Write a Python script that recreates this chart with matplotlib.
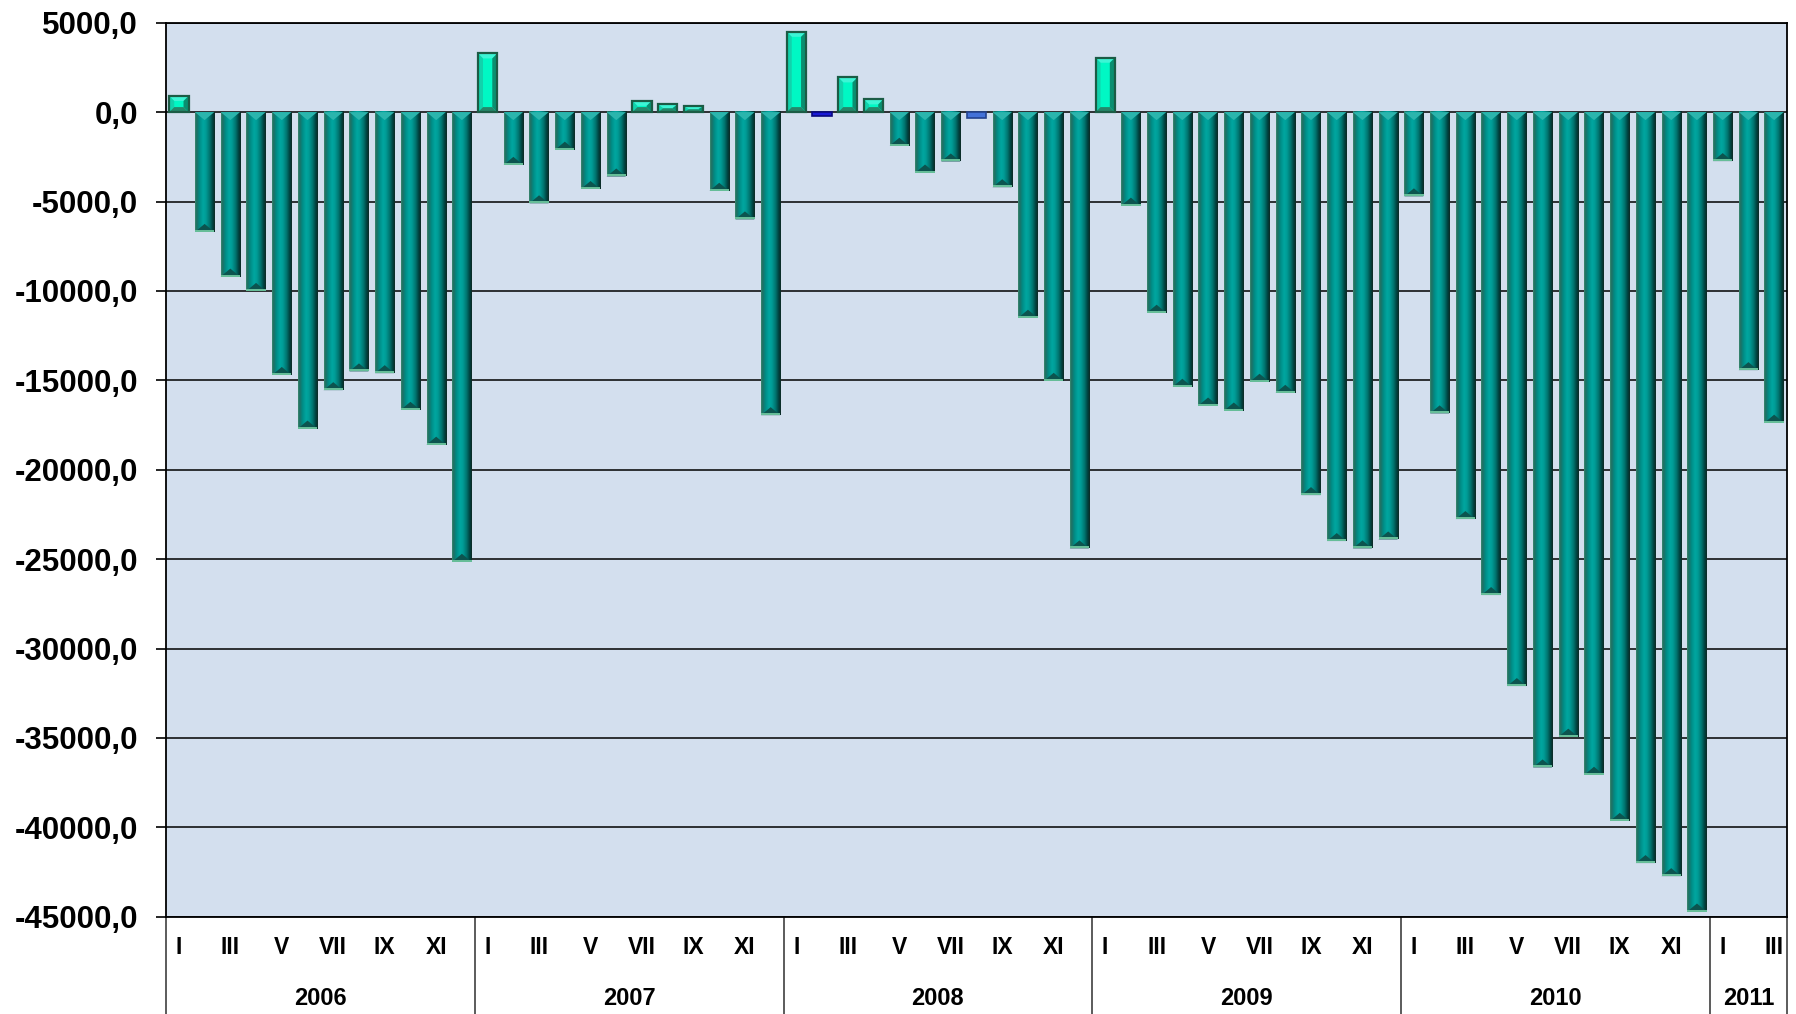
import matplotlib
matplotlib.use("Agg")
import matplotlib.pyplot as plt
import matplotlib.transforms as mtransforms
import numpy as np
from matplotlib.colors import LinearSegmentedColormap
from matplotlib.patches import Polygon, Rectangle
from matplotlib import font_manager

# data
years = ["2006", "2007", "2008", "2009", "2010", "2011"]
months_per_year = [12, 12, 12, 12, 12, 3]
month_names = ["I", "II", "III", "IV", "V", "VI", "VII", "VIII", "IX", "X", "XI", "XII"]

v2006 = [900, -6700, -9200, -10000, -14700, -17700, -15550, -14500, -14600, -16650, -18600, -25150]
v2007 = [3280, -2950, -5100, -2100, -4300, -3600, 630, 430, 320, -4400, -6000, -16950]
v2008 = [4490, -210, 1940, 710, -1880, -3380, -2760, -350, -4200, -11500, -15030, -24400]
v2009 = [3040, -5230, -11220, -15360, -16410, -16690, -15080, -15700, -21420, -23990, -24400, -23900]
v2010 = [-4710, -16850, -22760, -27010, -32100, -36650, -34930, -37060, -39640, -42000, -42730, -44710]
v2011 = [-2740, -14430, -17370]

# two bars drawn in blue in the original
blue_bars = {("2008", "II"): ("#1A1AD6", "#0A0A80"), ("2008", "VIII"): ("#4472D8", "#24448F")}

values = v2006 + v2007 + v2008 + v2009 + v2010 + v2011
labels = []
for y, n in zip(years, months_per_year):
    for m in range(n):
        labels.append((y, month_names[m]))


def pick(fams):
    for f in fams:
        try:
            font_manager.findfont(font_manager.FontProperties(family=f), fallback_to_default=False)
            return f
        except ValueError:
            pass
    return "DejaVu Sans"


main_font = pick(["Liberation Sans", "Arial"])
narrow_font = pick(["Liberation Sans Narrow", "Liberation Sans"])

FW, FH = 1796, 1014
L, R, T, B = 166 / FW, 1787 / FW, 1 - 22.7 / FH, 1 - 916.7 / FH
fig = plt.figure(figsize=(FW / 100, FH / 100), dpi=100)
ax = fig.add_axes([L, B, R - L, T - B])
ax.set_facecolor("#D3DFEE")

n = len(values)
ymin, ymax = -45000, 5000
px_x = n / ((R - L) * FW)
px_y = (ymax - ymin) / ((T - B) * FH)

neg_cmap = LinearSegmentedColormap.from_list("neg", [
    (0.00, "#3D8A70"), (0.07, "#1F6E62"), (0.22, "#008C86"), (0.40, "#00A6A0"),
    (0.55, "#009C96"), (0.75, "#00716C"), (0.90, "#00403D"), (1.00, "#0E2A25")])
grad = np.linspace(0, 1, 64).reshape(1, -1)

w = 0.75
for i, (v, lab) in enumerate(zip(values, labels)):
    x0, x1 = i - w / 2, i + w / 2
    if lab in blue_bars:
        fc, ec = blue_bars[lab]
        ax.add_patch(Rectangle((x0, min(0, v)), w, abs(v), fc=fc, ec=ec, lw=1.2, zorder=3))
    elif v < 0:
        ax.imshow(grad, extent=(x0, x1, v, 0), aspect="auto", cmap=neg_cmap,
                  interpolation="bilinear", zorder=3)
        d = min(8 * px_y, abs(v) / 2)
        ax.add_patch(Polygon([(x0, 0), (x1, 0), (i, -d)], closed=True,
                             fc="#2BB5AD", ec="none", zorder=4))
        ax.add_patch(Polygon([(x0, v), (x1, v), (i, v + d)], closed=True,
                             fc="#0C544F", ec="none", zorder=4))
        ax.add_patch(Rectangle((x0, v), w, 2 * px_y, fc="#66BD98", ec="none", zorder=5))
    else:
        bx = 5 * px_x
        by = min(5 * px_y, v / 2)
        ax.add_patch(Rectangle((x0, 0), w, v, fc="#00F8C4", ec="none", zorder=3))
        ax.add_patch(Polygon([(x0, v), (x1, v), (x1 - bx, v - by), (x0 + bx, v - by)],
                             fc="#3DF5D5", ec="none", zorder=4))
        ax.add_patch(Polygon([(x0, 0), (x0, v), (x0 + bx, v - by), (x0 + bx, by)],
                             fc="#12D2AC", ec="none", zorder=4))
        ax.add_patch(Polygon([(x1, 0), (x1, v), (x1 - bx, v - by), (x1 - bx, by)],
                             fc="#0A8F70", ec="none", zorder=4))
        ax.add_patch(Polygon([(x0, 0), (x1, 0), (x1 - bx, by), (x0 + bx, by)],
                             fc="#25876A", ec="none", zorder=4))
        ax.add_patch(Rectangle((x0, 0), w, v, fill=False, ec="#1B5C45", lw=1.6, zorder=5))

ax.set_xlim(-0.5, n - 0.5)
ax.set_ylim(ymin, ymax)
ax.set_aspect("auto")

yt = list(range(ymin, ymax + 1, 5000))
ax.set_yticks(yt)
ax.set_yticklabels([f"{t:.1f}".replace(".", ",") for t in yt],
                   fontfamily=main_font, fontweight="bold", fontsize=22.5)
ax.tick_params(axis="y", direction="out", length=7, width=1.2, pad=13, colors="black")
ax.set_xticks([])
ax.yaxis.grid(True, color="black", lw=1.1)
ax.set_axisbelow(True)
for s in ax.spines.values():
    s.set_color("black")
    s.set_linewidth(1.3)

blend = mtransforms.blended_transform_factory(ax.transData, ax.transAxes)
start = 0
for y, cnt in zip(years, months_per_year):
    for m in range(0, cnt, 2):
        ax.text(start + m, -0.035, month_names[m], transform=blend, ha="center", va="center",
                fontfamily=narrow_font, fontweight="bold", fontsize=16.5, clip_on=False)
    ax.text(start + (cnt - 1) / 2, -0.092, y, transform=blend, ha="center", va="center",
            fontfamily=narrow_font, fontweight="bold", fontsize=17, clip_on=False)
    ax.plot([start - 0.5, start - 0.5], [0, -0.12], transform=blend, color="#404040",
            lw=1.2, clip_on=False)
    start += cnt
ax.plot([n - 0.5, n - 0.5], [0, -0.12], transform=blend, color="#404040", lw=1.2, clip_on=False)

fig.savefig("out.png", dpi=100)
